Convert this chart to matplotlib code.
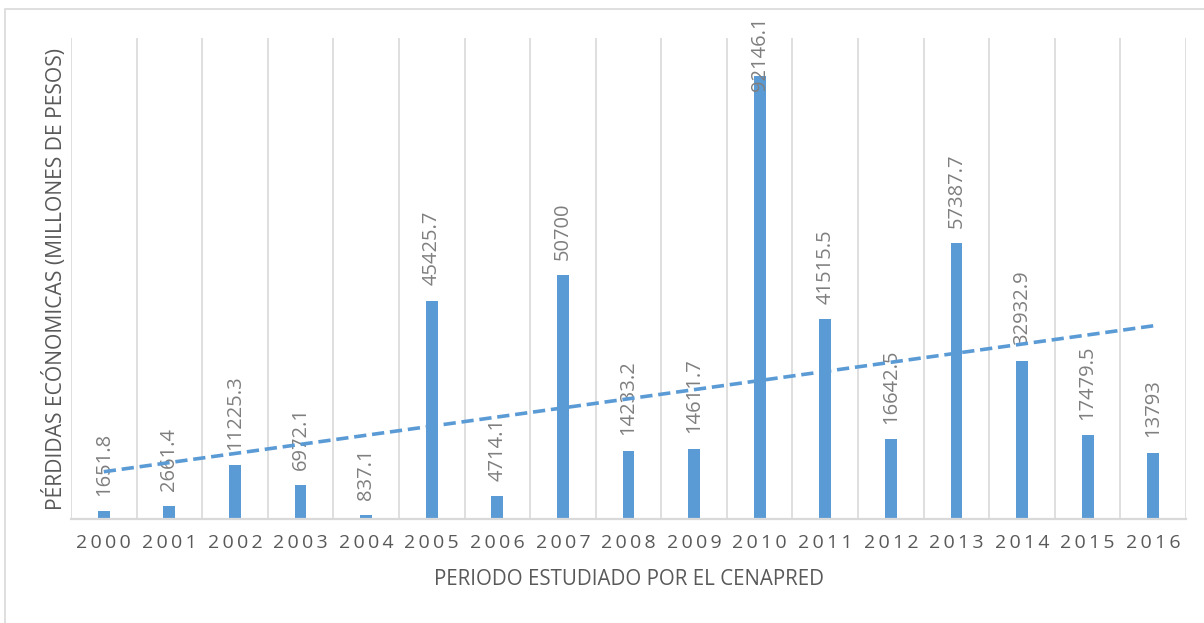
import numpy as np
import matplotlib
matplotlib.use("Agg")
import matplotlib.pyplot as plt
from matplotlib.patches import Rectangle

years = ["2000", "2001", "2002", "2003", "2004", "2005", "2006", "2007", "2008",
         "2009", "2010", "2011", "2012", "2013", "2014", "2015", "2016"]
losses = [1651.8, 2661.4, 11225.3, 6972.1, 837.1, 45425.7, 4714.1, 50700, 14233.2,
          14611.7, 92146.1, 41515.5, 16642.5, 57387.7, 32932.9, 17479.5, 13793]
value_labels = ["1651.8", "2661.4", "11225.3", "6972.1", "837.1", "45425.7", "4714.1",
                "50700", "14233.2", "14611.7", "92146.1", "41515.5", "16642.5",
                "57387.7", "32932.9", "17479.5", "13793"]

FONT = ["Open Sans", "DejaVu Sans"]
plt.rcParams['font.family'] = FONT
BLUE = "#5B9BD5"
GRID = "#D9D9D9"
TXT = "#595959"
LBL = "#7F7F7F"

W, H = 1204, 623
fig = plt.figure(figsize=(W / 100, H / 100), dpi=100)
ax = fig.add_axes([71 / W, 1 - 519 / H, (1186 - 71) / W, (519 - 38) / H])

x = np.arange(len(years))
ax.bar(x, losses, width=0.18, color=BLUE, zorder=2)

# linear trendline
coef = np.polyfit(x, losses, 1)
ax.plot(x, np.polyval(coef, x), color=BLUE, lw=2.6, linestyle=(0, (3.4, 1.6)),
        zorder=5, solid_capstyle='butt', dash_capstyle='butt')

ax.set_xlim(-0.5, len(years) - 0.5)
ax.set_ylim(0, 100000)
ax.set_yticks([])
ax.set_xticks(x)
ax.set_xticklabels(["\u2009".join(y) for y in years], fontsize=14, color=TXT)
ax.tick_params(axis='x', length=0, pad=11)
for b in np.arange(-0.5, len(years), 1.0):
    ax.axvline(b, color=GRID, lw=1.2, zorder=1)
for s in ['top', 'right', 'left']:
    ax.spines[s].set_visible(False)
ax.spines['bottom'].set_color(GRID)
ax.spines['bottom'].set_linewidth(1.6)

ax.set_xlabel("PERIODO ESTUDIADO POR EL CENAPRED", fontsize=14.8, color=TXT, labelpad=12)
ax.set_ylabel("PÉRDIDAS ECÓNOMICAS (MILLONES DE PESOS)", fontsize=15.2, color=TXT, labelpad=3)

fig.canvas.draw()
renderer = fig.canvas.get_renderer()
texts = []
for xi, v, lab in zip(x, losses, value_labels):
    t = ax.annotate(lab, (xi, v), xytext=(0, 11), textcoords='offset points',
                    rotation=90, ha='center', va='bottom', fontsize=14.5,
                    color=LBL, zorder=4, annotation_clip=False)
    texts.append((t, xi, v))
fig.canvas.draw()
limit = H - 16
for t, xi, v in texts:
    bb = t.get_window_extent(renderer)
    if bb.y1 > limit:
        shift = (bb.y1 - limit) * 72 / 100
        t.set_position((0, 11 - shift))

fig.patches.append(Rectangle((5 / W, -0.1), 2, 1 - 9 / H + 0.1, transform=fig.transFigure,
                             fill=False, edgecolor=GRID, lw=1.2, zorder=0))

fig.savefig("out.png", dpi=100)
